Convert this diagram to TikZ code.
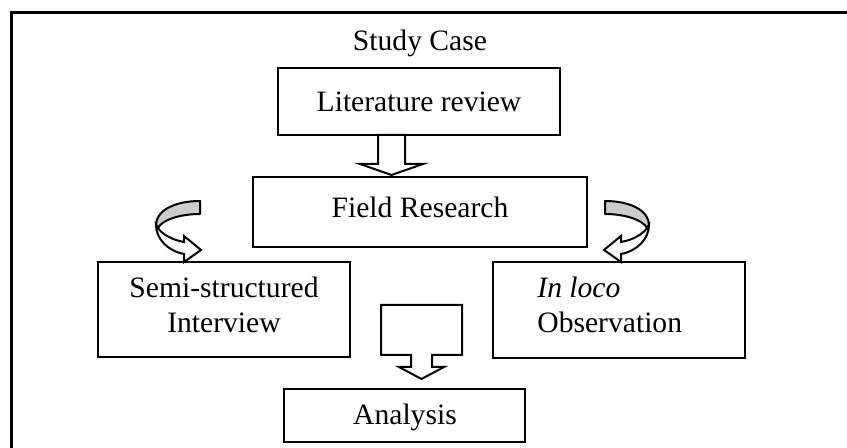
\documentclass[tikz,border=0pt]{standalone}
\usepackage{fontspec}
\setmainfont{Liberation Serif}
\begin{document}
\begin{tikzpicture}[x=0.5pt,y=-0.5pt,
  box/.style={draw, line width=1pt, inner sep=0pt},
  txt/.style={font=\fontsize{14.8}{17.5}\selectfont, inner sep=0pt},
  blockarrow/.style={draw, fill=white, line width=1pt, line join=miter},
  curvarr/.pic={
    \filldraw[fill=black!20, line width=1pt, line join=round]
      (0,0) .. controls (-26,0) and (-44,10) .. (-44,24) -- (-42,27)
      .. controls (-38,19) and (-20,13) .. (0,13) -- cycle;
    \filldraw[fill=white, line width=1pt, line join=miter]
      (-44,24) .. controls (-44,38) and (-32,50) .. (-16,53) -- (-16,61) -- (1,49)
      -- (-16,35) -- (-16,41) .. controls (-28,39) and (-38,33) .. (-42,27) -- cycle;
  }]
\useasboundingbox (0,0) rectangle (847,448);
% frame
\draw[line width=1.5pt] (850,13) -- (11,13) -- (11,452);
% title
\node[txt] (title) at (420,43) {Study Case};
% boxes
\node[box, minimum width=141pt, minimum height=33.5pt] (lit) at (419,101.5) {};
\node[txt] (littxt) at (lit.center) {Literature review};
\node[box, minimum width=167pt, minimum height=35pt] (field) at (420,212) {};
\node[txt] (fieldtxt) at (420,207) {Field Research};
\node[box, minimum width=126pt, minimum height=47.5pt] (semi) at (224,309.5) {};
\node[txt, align=center] (semitxt) at (224,304.5) {Semi-structured\\Interview};
\node[box, minimum width=126pt, minimum height=48pt] (obs) at (619,310) {};
\node[txt, align=left, anchor=west] (obstxt) at (537,304.5) {\textit{In loco}\\Observation};
\node[box, minimum width=120.5pt, minimum height=26.5pt] (ana) at (404.5,415.5) {};
\node[txt] (anatxt) at (405,417) {Analysis};
% block arrow lit -> field
\path[blockarrow] (378,135) -- (378,164) -- (360,164) -- (391.5,175) -- (423,164)
  -- (405,164) -- (405,135) -- cycle;
% block arrow to analysis
\path[blockarrow] (381,305) -- (462,305) -- (462,355) -- (432,355) -- (432,367)
  -- (444,367) -- (421.5,379) -- (399,367) -- (411,367) -- (411,355) -- (381,355) -- cycle;
% curved arrows
\pic at (200,201) {curvarr};
\pic[xscale=-1] at (605,201) {curvarr};
\end{tikzpicture}
\end{document}
